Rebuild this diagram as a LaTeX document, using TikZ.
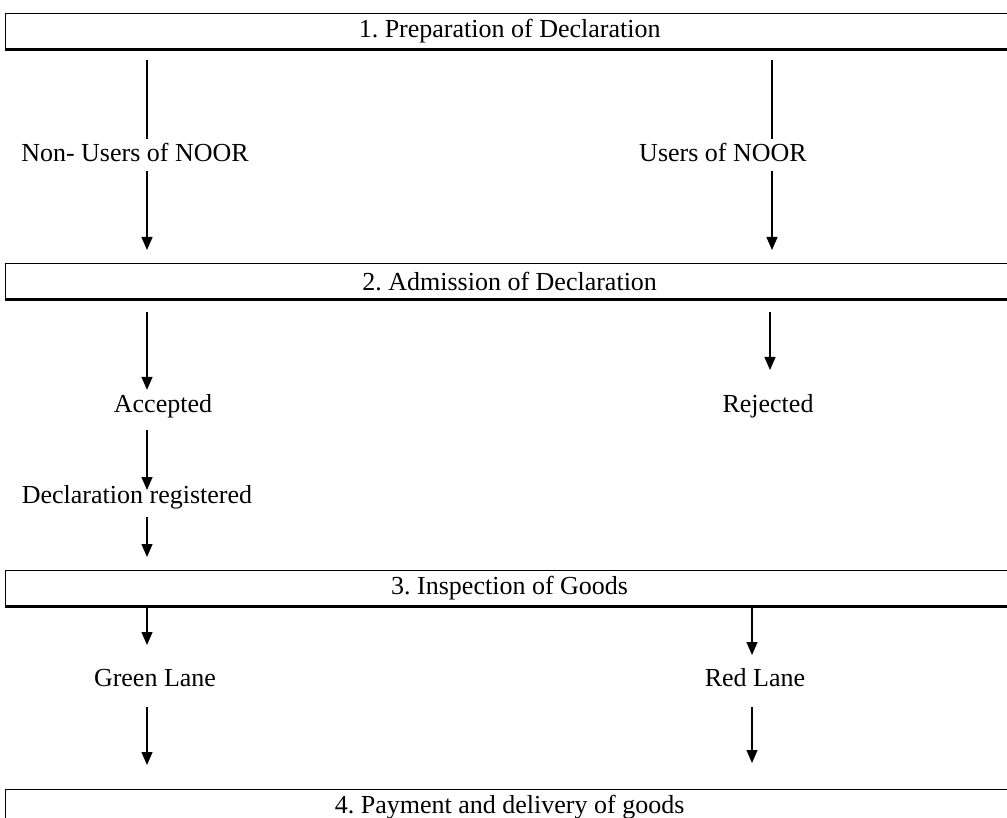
\documentclass[tikz,border=0pt]{standalone}
\usepackage{fontspec}
\setmainfont{Liberation Serif}
\usetikzlibrary{arrows.meta}
\frenchspacing
\tikzstyle{stage box}=[
    draw,
    line width = 1.3pt,
    anchor = north west,
    minimum width = 1008pt,
    minimum height = 35pt,
    inner sep = 0pt,
    font = \fontsize{26}{30}\selectfont
]

\begin{document}
\begin{tikzpicture}[x=1pt, y=-1pt, line width=1.3pt,
    lbl/.style = {font=\fontsize{26}{30}\selectfont, text height=18pt, text depth=5pt, inner sep=4pt},
    flow/.style = {-{Triangle[width=11pt,length=13pt]}}]
        \clip (0,0) rectangle (1007,818);

        \node[stage box] (prep) at (5,13) {1. Preparation of Declaration};
        \node[stage box] (admit) at (5,263) {2. Admission of Declaration};
        \node[stage box] (insp) at (5,570) {3. Inspection of Goods};
        \node[stage box] (pay) at (5,789) {4. Payment and delivery of goods};
        \foreach \b in {prep, admit, insp}
            \draw[line width=3pt] (\b.south west) -- (\b.south east);

        \node[lbl] (nonusers) at (135,155) {Non- Users of NOOR};
        \node[lbl] (users) at (723,155) {Users of NOOR};
        \node[lbl] (accepted) at (163,406) {Accepted};
        \node[lbl] (rejected) at (768,406) {Rejected};
        \node[lbl] (declreg) at (137,497) {Declaration registered};
        \node[lbl] (green) at (155,680) {Green Lane};
        \node[lbl] (red) at (755,680) {Red Lane};

        \coordinate (l1) at (147,60);   \coordinate (l1e) at (147,250);
        \coordinate (r1) at (772,60);   \coordinate (r1e) at (772,250);
        \coordinate (l2) at (147,312);
        \coordinate (r2) at (770,312);  \coordinate (r2e) at (770,370);
        \coordinate (l3) at (147,430);  \coordinate (l3e) at (147,490);
        \coordinate (l4) at (147,517);  \coordinate (l4e) at (147,557);
        \coordinate (l5) at (147,605);  \coordinate (l5e) at (147,645);
        \coordinate (r5) at (752,605);  \coordinate (r5e) at (752,655);
        \coordinate (l6) at (147,707);  \coordinate (l6e) at (147,765);
        \coordinate (r6) at (752,707);  \coordinate (r6e) at (752,763);

        \draw (l1) -- (nonusers.north -| l1);
        \draw[flow] (nonusers.south -| l1) -- (l1e);
        \draw (r1) -- (users.north -| r1);
        \draw[flow] (users.south -| r1) -- (r1e);
        \draw[flow] (l2) -- (accepted.north -| l2);
        \draw[flow] (r2) -- (r2e);
        \draw[flow] (l3) -- (l3e);
        \draw[flow] (l4) -- (l4e);
        \draw[flow] (l5) -- (l5e);
        \draw[flow] (r5) -- (r5e);
        \draw[flow] (l6) -- (l6e);
        \draw[flow] (r6) -- (r6e);

    \end{tikzpicture}
\end{document}
